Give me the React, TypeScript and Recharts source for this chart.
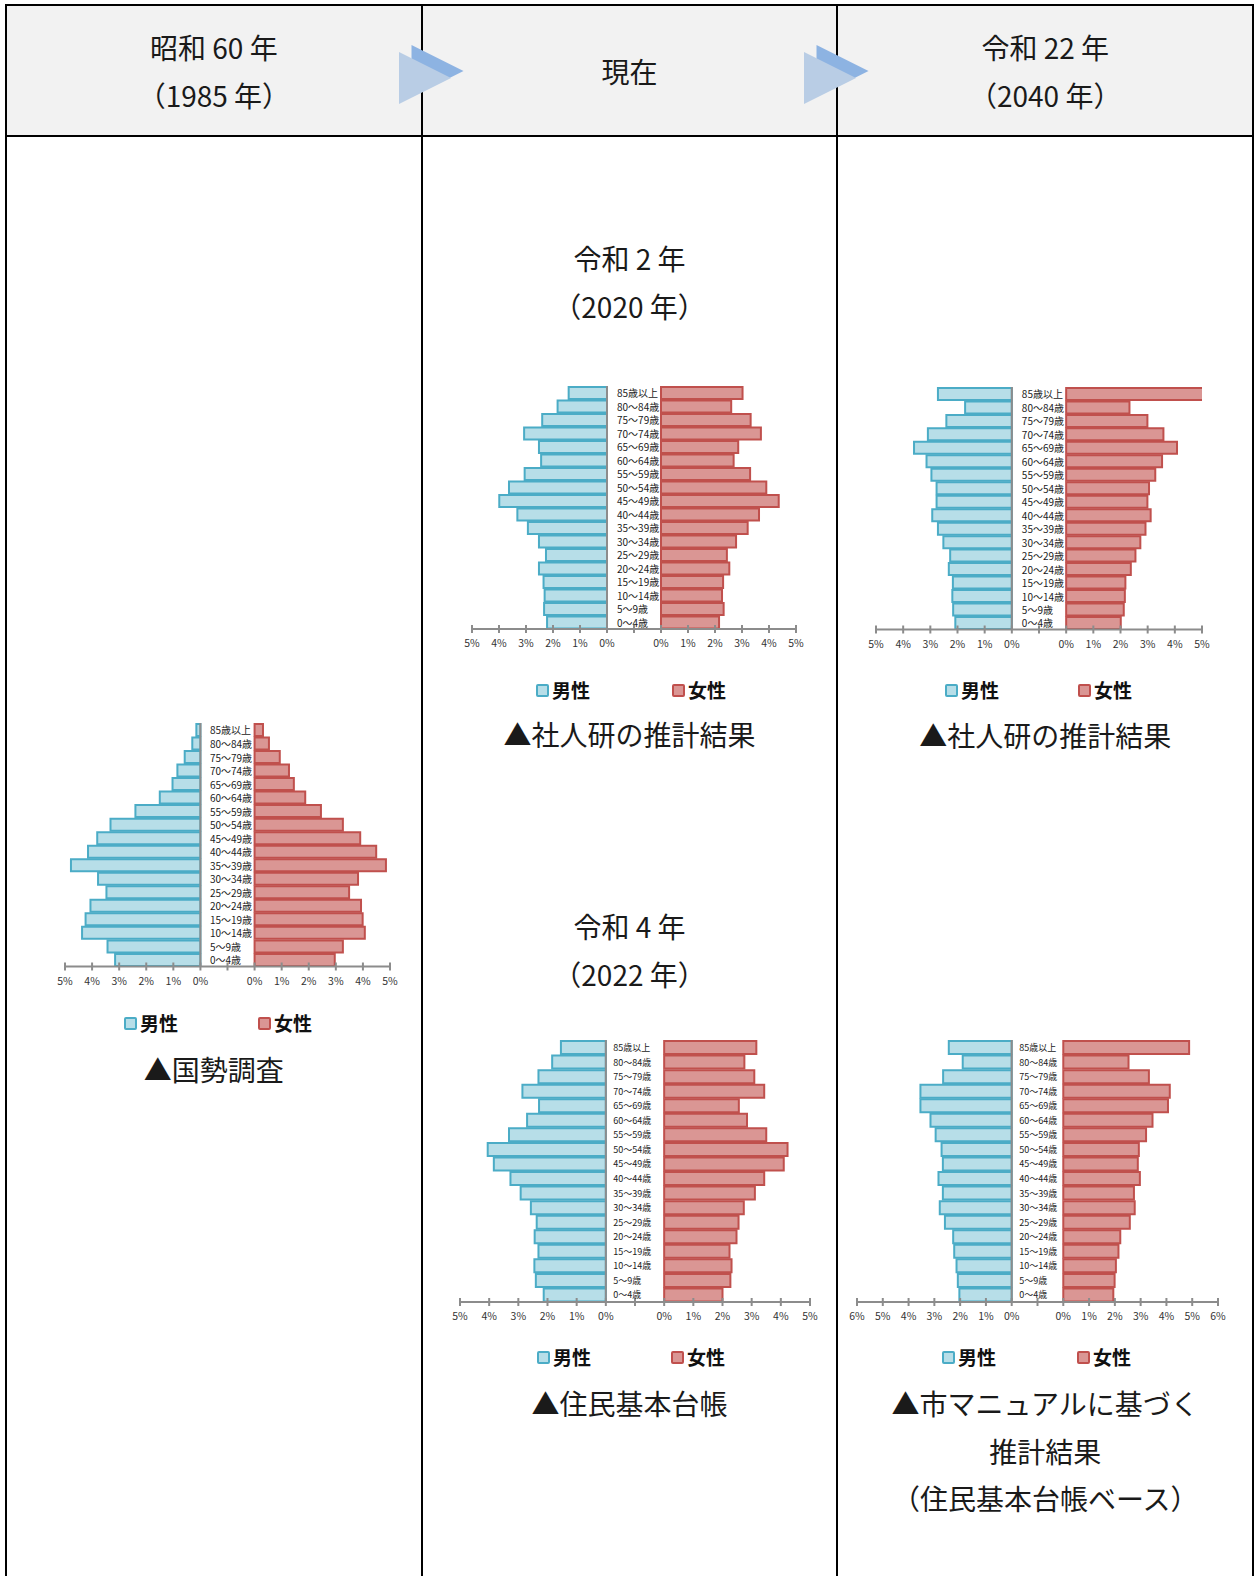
import React from 'react';
import { BarChart, Bar, XAxis, YAxis, ReferenceLine, LabelList } from 'recharts';

const AGES = ['85歳以上', '80～84歳', '75～79歳', '70～74歳', '65～69歳', '60～64歳', '55～59歳', '50～54歳', '45～49歳', '40～44歳', '35～39歳', '30～34歳', '25～29歳', '20～24歳', '15～19歳', '10～14歳', '5～9歳', '0～4歳'];

const MALE_1985 = [0.15, 0.3, 0.58, 0.85, 1.03, 1.5, 2.4, 3.32, 3.81, 4.15, 4.78, 3.78, 3.47, 4.06, 4.24, 4.37, 3.43, 3.15];
const FEMALE_1985 = [0.31, 0.53, 0.93, 1.27, 1.45, 1.87, 2.45, 3.26, 3.9, 4.49, 4.85, 3.82, 3.49, 3.93, 3.99, 4.07, 3.26, 2.96];

const MALE_2020 = [1.42, 1.83, 2.4, 3.07, 2.52, 2.44, 3.05, 3.63, 3.99, 3.32, 2.93, 2.52, 2.26, 2.52, 2.35, 2.31, 2.33, 2.22];
const FEMALE_2020 = [3.02, 2.6, 3.32, 3.7, 2.86, 2.69, 3.3, 3.9, 4.36, 3.63, 3.21, 2.78, 2.44, 2.53, 2.3, 2.26, 2.32, 2.15];

const MALE_2040_IPSS = [2.72, 1.72, 2.41, 3.09, 3.6, 3.14, 2.96, 2.77, 2.77, 2.93, 2.72, 2.52, 2.27, 2.32, 2.17, 2.19, 2.16, 2.08];
const FEMALE_2040_IPSS = [5.2, 2.33, 2.99, 3.58, 4.08, 3.53, 3.28, 3.05, 2.99, 3.11, 2.92, 2.73, 2.55, 2.38, 2.18, 2.16, 2.12, 2.01];

const MALE_2022 = [1.54, 1.84, 2.31, 2.86, 2.29, 2.7, 3.32, 4.05, 3.84, 3.27, 2.92, 2.57, 2.37, 2.44, 2.31, 2.45, 2.4, 2.13];
const FEMALE_2022 = [3.16, 2.75, 3.09, 3.43, 2.56, 2.84, 3.5, 4.23, 4.1, 3.43, 3.11, 2.73, 2.55, 2.48, 2.24, 2.31, 2.27, 2.0];

const MALE_2040_CITY = [2.44, 1.9, 2.66, 3.54, 3.54, 3.15, 2.95, 2.72, 2.67, 2.84, 2.67, 2.79, 2.59, 2.27, 2.23, 2.14, 2.09, 2.03];
const FEMALE_2040_CITY = [4.88, 2.53, 3.32, 4.13, 4.06, 3.46, 3.21, 2.93, 2.89, 2.97, 2.74, 2.77, 2.58, 2.21, 2.14, 2.04, 1.99, 1.94];

const MALE_LABEL = '男性';
const FEMALE_LABEL = '女性';

const FONT = '"Noto Sans CJK JP", "Noto Sans", sans-serif';
const MALE_FILL = '#b7dee8';
const MALE_STROKE = '#4bacc6';
const FEMALE_FILL = '#da9694';
const FEMALE_STROKE = '#c0504d';
const AXIS = '#8c8c8c';

// half-width (in axis units) of the central band that holds the age labels
const GAP = 1;

const fmtTick = (v: number) => (v === 0 ? '' : `${Math.abs(v) - GAP}%`);

const AxisTick = (props: any) => {
  const { x, y, payload } = props;
  const label = fmtTick(payload.value);
  return (
    <g>
      <line x1={x} x2={x} y1={y - 4} y2={y + 4} stroke={AXIS} strokeWidth={2} />
      {label && (
        <text x={x} y={y + 18} textAnchor="middle" fontSize={10.5} fill="#333" fontFamily={FONT}>
          {label}
        </text>
      )}
    </g>
  );
};

type PyrProps = {
  male: number[];
  female: number[];
  left: number;
  top: number;
  plotW: number;
  plotH: number;
  tickMax: number;
  labelSize: number;
  labelOffset: number;
};

const Pyramid = ({ male, female, left, top, plotW, plotH, tickMax, labelSize, labelOffset }: PyrProps) => {
  const rows = AGES.map((age, i) => ({
    age,
    mr: [-GAP - male[i], -GAP],
    fr: [GAP, GAP + female[i]],
  }));
  const D = tickMax + GAP;
  const ticks: number[] = [];
  for (let v = -D; v <= D; v++) ticks.push(v);
  const padX = 20;
  const padTop = 6;
  const axisH = 26;
  const renderLabel = (p: any) => {
    const vb = p.viewBox && p.viewBox.width !== undefined ? p.viewBox : p;
    return (
      <text
        x={vb.x + vb.width + labelOffset}
        y={vb.y + vb.height / 2}
        dominantBaseline="central"
        fontSize={labelSize}
        fill="#1a1a1a"
        fontFamily={FONT}
      >
        {p.value}
      </text>
    );
  };
  return (
    <div style={{ position: 'absolute', left: left - padX, top: top - padTop }}>
      <BarChart
        width={plotW + 2 * padX}
        height={padTop + plotH + axisH}
        data={rows}
        layout="vertical"
        margin={{ top: padTop, right: padX, left: padX, bottom: 0 }}
        barCategoryGap="7%"
        style={{ overflow: 'visible' }}
      >
        <XAxis
          type="number"
          domain={[-D, D]}
          ticks={ticks}
          interval={0}
          allowDataOverflow
          tick={<AxisTick />}
          tickLine={false}
          tickSize={0}
          tickMargin={0}
          axisLine={{ stroke: AXIS, strokeWidth: 2 }}
          height={axisH}
        />
        <YAxis yAxisId="m" type="category" dataKey="age" hide />
        <YAxis yAxisId="f" type="category" dataKey="age" hide />
        <Bar yAxisId="m" dataKey="mr" fill={MALE_FILL} stroke={MALE_STROKE} strokeWidth={2} isAnimationActive={false}>
          <LabelList dataKey="age" content={renderLabel} />
        </Bar>
        <Bar yAxisId="f" dataKey="fr" fill={FEMALE_FILL} stroke={FEMALE_STROKE} strokeWidth={2} isAnimationActive={false} />
        <ReferenceLine yAxisId="m" x={-GAP} stroke={AXIS} strokeWidth={2} />
      </BarChart>
    </div>
  );
};

const Legend = ({ mx, fx, y }: { mx: number; fx: number; y: number }) => {
  const item = (x: number, fill: string, stroke: string, label: string) => (
    <div style={{ position: 'absolute', left: x, top: y - 14, height: 28, display: 'flex', alignItems: 'center' }}>
      <div style={{ width: 9, height: 9, background: fill, border: `2px solid ${stroke}`, borderRadius: 2 }} />
      <span style={{ marginLeft: 3, fontSize: 19, fontWeight: 700, fontFamily: FONT, color: '#111', lineHeight: '28px' }}>{label}</span>
    </div>
  );
  return (
    <>
      {item(mx, MALE_FILL, MALE_STROKE, MALE_LABEL)}
      {item(fx, FEMALE_FILL, FEMALE_STROKE, FEMALE_LABEL)}
    </>
  );
};

const TextBlock = ({ cx, y, lines, size = 28, lh = 47.5 }: { cx: number; y: number; lines: string[]; size?: number; lh?: number }) => (
  <div
    style={{
      position: 'absolute',
      left: cx - 200,
      width: 400,
      top: y - lh / 2,
      textAlign: 'center',
      fontSize: size,
      lineHeight: `${lh}px`,
      fontFamily: FONT,
      color: '#1a1a1a',
      whiteSpace: 'nowrap',
    }}
  >
    {lines.map((l, i) => (
      <div key={i}>{l}</div>
    ))}
  </div>
);

export default function App() {
  const L = 6;
  const R = 1253;
  const C1 = 421.7;
  const C2 = 837.4;
  const TOP = 5;
  const HB = 136;
  const cx1 = (L + C1) / 2;
  const cx2 = (C1 + C2) / 2;
  const cx3 = (C2 + R) / 2;
  const vline = (x: number) => (
    <div style={{ position: 'absolute', left: x - 1, top: TOP - 1, width: 2, height: 1576 - TOP + 1, background: '#000' }} />
  );
  return (
    <div style={{ position: 'absolute', left: 0, top: 0, width: 1255, height: 1576, background: '#fff', overflow: 'hidden' }}>
      {/* header background */}
      <div style={{ position: 'absolute', left: L, top: TOP, width: R - L, height: HB - TOP, background: '#f2f2f2' }} />
      {/* borders */}
      <div style={{ position: 'absolute', left: L - 1, top: TOP - 1, width: R - L + 2, height: 2, background: '#000' }} />
      <div style={{ position: 'absolute', left: L - 1, top: HB - 1, width: R - L + 2, height: 2, background: '#000' }} />
      {vline(L)}
      {vline(C1)}
      {vline(C2)}
      {vline(R)}

      {/* arrows */}
      <svg width={1255} height={140} style={{ position: 'absolute', left: 0, top: 0 }}>
        {[0, 405].map((dx) => (
          <g key={dx} transform={`translate(${dx},0)`}>
            <polygon points="411.5,45 463.5,71 411.5,97" fill="#8db3e2" />
            <polygon points="399,52 451,78 399,104" fill="#b9cde5" />
          </g>
        ))}
      </svg>

      {/* header text */}
      <TextBlock cx={cx1} y={47} lines={['昭和 60 年', '（1985 年）']} lh={48} />
      <TextBlock cx={cx2} y={71} lines={['現在']} lh={48} />
      <TextBlock cx={cx3} y={47} lines={['令和 22 年', '（2040 年）']} lh={48} />

      {/* column 1 */}
      <Pyramid male={MALE_1985} female={FEMALE_1985} left={65} top={722.5} plotW={325} plotH={243.5} tickMax={5} labelSize={10} labelOffset={9.5} />
      <Legend mx={124} fx={258} y={1023} />
      <TextBlock cx={cx1} y={1070} lines={['▲国勢調査']} />

      {/* column 2 */}
      <TextBlock cx={cx2} y={259} lines={['令和 2 年', '（2020 年）']} />
      <Pyramid male={MALE_2020} female={FEMALE_2020} left={471.7} top={386} plotW={324} plotH={243} tickMax={5} labelSize={10} labelOffset={10} />
      <Legend mx={536} fx={672} y={690} />
      <TextBlock cx={cx2} y={735} lines={['▲社人研の推計結果']} />

      <TextBlock cx={cx2} y={927} lines={['令和 4 年', '（2022 年）']} />
      <Pyramid male={MALE_2022} female={FEMALE_2022} left={460} top={1040} plotW={350} plotH={262} tickMax={5} labelSize={9} labelOffset={7.5} />
      <Legend mx={537} fx={671} y={1357} />
      <TextBlock cx={cx2} y={1404} lines={['▲住民基本台帳']} />

      {/* column 3 */}
      <Pyramid male={MALE_2040_IPSS} female={FEMALE_2040_IPSS} left={875.7} top={386.5} plotW={326} plotH={242.5} tickMax={5} labelSize={10} labelOffset={10} />
      <Legend mx={945} fx={1078} y={690} />
      <TextBlock cx={cx3} y={736} lines={['▲社人研の推計結果']} />

      <Pyramid male={MALE_2040_CITY} female={FEMALE_2040_CITY} left={857.3} top={1040} plotW={361} plotH={262} tickMax={6} labelSize={9} labelOffset={7.5} />
      <Legend mx={942} fx={1077} y={1357} />
      <TextBlock cx={cx3} y={1404} lines={['▲市マニュアルに基づく', '推計結果', '（住民基本台帳ベース）']} />
    </div>
  );
}
